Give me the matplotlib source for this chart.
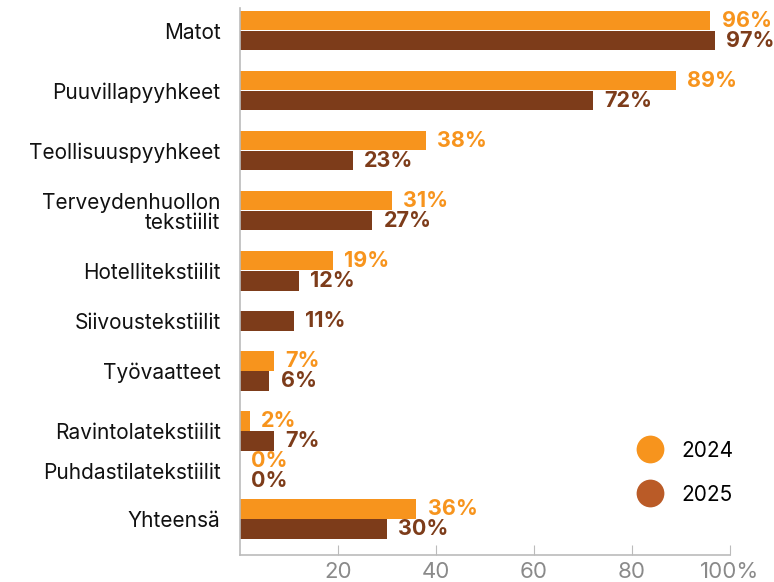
import numpy as np
import matplotlib
matplotlib.use("Agg")
import matplotlib.pyplot as plt
from matplotlib.lines import Line2D

# data
categories = ["Matot", "Puuvillapyyhkeet", "Teollisuuspyyhkeet",
              "Terveydenhuollon\ntekstiilit", "Hotellitekstiilit",
              "Siivoustekstiilit", "Työvaatteet", "Ravintolatekstiilit",
              "Puhdastilatekstiilit", "Yhteensä"]
v2024 = [96, 89, 38, 31, 19, None, 7, 2, 0, 36]
v2025 = [97, 72, 23, 27, 12, 11, 6, 7, 0, 30]
years = ["2024", "2025"]
xticks = [20, 40, 60, 80, 100]
xticklabels = ["20", "40", "60", "80", "100%"]

# layout: space (in bar heights) left before each group
gap_before = [0, 1, 1, 1, 1, 1, 1, 1, 0, 0.4]

c24 = "#F7941D"
c25 = "#7D3C1A"
c25_leg = "#BA5B27"
font = ["Inter", "DejaVu Sans"]

fig = plt.figure(figsize=(7.74, 5.82), dpi=100)
ax = fig.add_axes([240 / 774, 27 / 582, 490 / 774, 547 / 582])

cursor = 0
group_centers = []
for i, cat in enumerate(categories):
    cursor += gap_before[i]
    rows = []
    for vals, col in ((v2024, c24), (v2025, c25)):
        if vals[i] is not None:
            rows.append((cursor, vals[i], col))
            cursor += 1
    group_centers.append(np.mean([r[0] for r in rows]))
    for y, v, col in rows:
        ax.barh(y, v, height=0.97, color=col, edgecolor="none")
        ax.annotate(f"{v}%", (v, y), xytext=(8, 0), textcoords="offset points",
                    ha="left", va="center", color=col, fontsize=15.5,
                    fontweight="bold", family=font)

ax.set_ylim(26.7, -0.63)
ax.set_xlim(0, 100)
ax.set_yticks(group_centers)
ax.set_yticklabels(categories, family=font, fontsize=15, color="#111111",
                   linespacing=1.0)
ax.tick_params(axis="y", length=0, pad=14)

ax.set_xticks(xticks)
ax.set_xticklabels(xticklabels, family=font, fontsize=16, color="#8a8a8a")
ax.tick_params(axis="x", direction="in", length=7, color="#bbbbbb", pad=5)

for s in ("top", "right"):
    ax.spines[s].set_visible(False)
for s in ("left", "bottom"):
    ax.spines[s].set_color("#bbbbbb")
    ax.spines[s].set_linewidth(1.2)

handles = [Line2D([], [], marker="o", linestyle="none", markersize=20,
                  markerfacecolor=c, markeredgecolor="none")
           for c in (c24, c25_leg)]
leg = ax.legend(handles, years, loc="lower right", bbox_to_anchor=(1.045, 0.058),
                frameon=False, handletextpad=0.5, labelspacing=1.15,
                prop={"family": font, "size": 15})

fig.savefig("out.png", dpi=100)
